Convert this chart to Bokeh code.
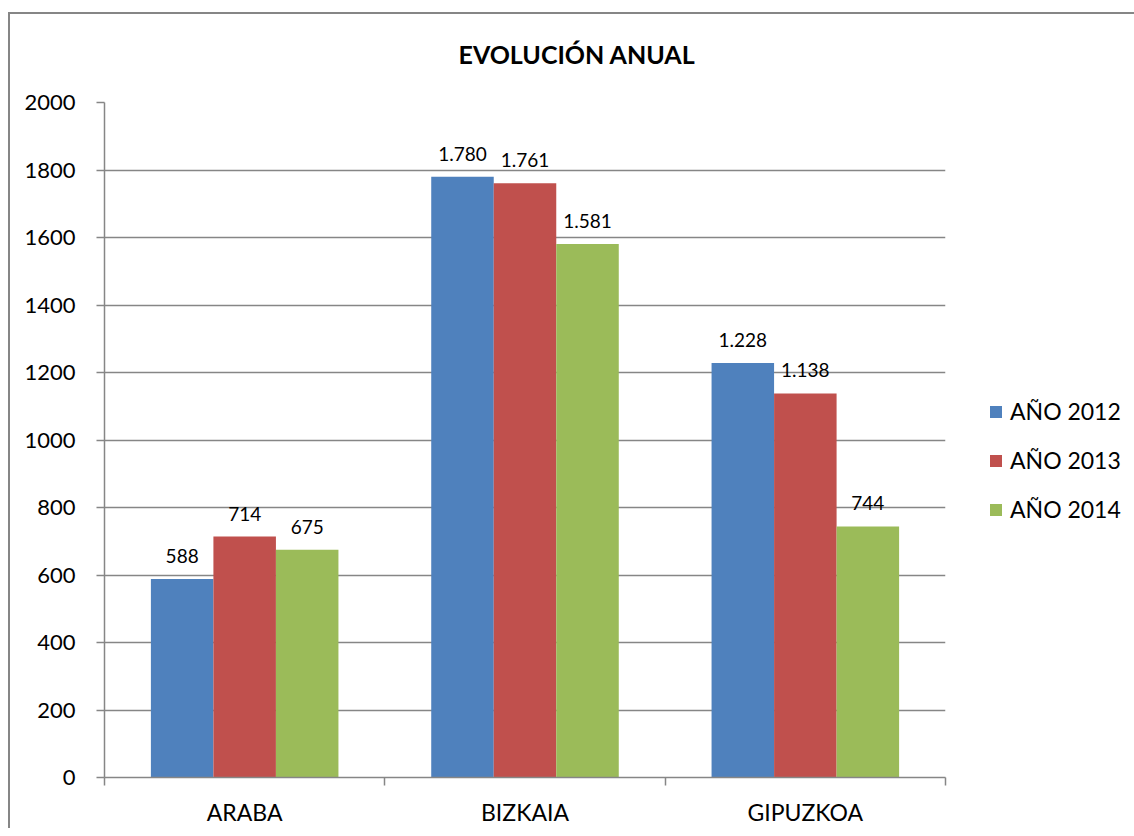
from bokeh.plotting import figure
from bokeh.models import (ColumnDataSource, Range1d, FixedTicker, Legend, LegendItem,
                          LabelSet, Title)
from bokeh.core.properties import value
from bokeh.embed import file_html
from bokeh.resources import INLINE

# ---- data ----
categories = ["ARABA", "BIZKAIA", "GIPUZKOA"]
series_names = ["AÑO 2012", "AÑO 2013", "AÑO 2014"]
values_2012 = [588, 1780, 1228]
values_2013 = [714, 1761, 1138]
values_2014 = [675, 1581, 744]
colors = ["#4F81BD", "#C0504D", "#9BBB59"]
y_ticks = [0, 200, 400, 600, 800, 1000, 1200, 1400, 1600, 1800, 2000]
title_text = "EVOLUCIÓN ANUAL"

FONT = "Lato"
GRID = "#868686"

p = figure(frame_width=841, frame_height=675,
           min_border_left=104, min_border_right=175, min_border_top=102, min_border_bottom=50,
           x_range=Range1d(0, len(categories)), y_range=Range1d(0, 2000),
           output_backend="svg", toolbar_location=None, tools="")
# chart-area border (left and top edges visible, as in the reference)
p.styles = {"background-color": "white",
            "box-shadow": "inset 8px 12px 0 0 white, inset 10px 14px 0 0 #868686"}
p.outline_line_color = None
p.background_fill_color = "white"
p.border_fill_color = None

title = Title(text=title_text, align="left", offset=354, text_font=FONT,
              text_font_size="25px", text_font_style="bold", text_color="black",
              standoff=68)
p.add_layout(title, "above")

bar_w = 0.223
offsets = [-bar_w, 0.0, bar_w]
all_series = [values_2012, values_2013, values_2014]
renderers = []
for vals, off, col in zip(all_series, offsets, colors):
    xs = [i + 0.5 + off for i in range(len(categories))]
    labels = [f"{v:,}".replace(",", ".") for v in vals]
    src = ColumnDataSource(dict(x=xs, top=vals, lab=labels))
    r = p.vbar(x="x", top="top", bottom=0, width=bar_w, source=src,
               fill_color=col, line_color=None)
    renderers.append(r)
    p.add_layout(LabelSet(x="x", y="top", text="lab", source=src, text_align="center",
                          text_baseline="bottom", y_offset=16, text_font=value(FONT),
                          text_font_size=value("19px"), text_color="black"))

# axes
xa = p.xaxis[0]
xa.ticker = FixedTicker(ticks=[i + 0.5 for i in range(len(categories))],
                        minor_ticks=list(range(len(categories) + 1)))
xa.major_label_overrides = {i + 0.5: c for i, c in enumerate(categories)}
xa.major_tick_in = 0
xa.major_tick_out = 0
xa.minor_tick_in = 0
xa.minor_tick_out = 8
xa.minor_tick_line_color = GRID
xa.minor_tick_line_width = 1.5
xa.axis_line_color = GRID
xa.axis_line_width = 1.5
xa.major_label_text_font = FONT
xa.major_label_text_font_size = "23px"
xa.major_label_text_color = "black"
xa.major_label_standoff = 12

ya = p.yaxis[0]
ya.ticker = FixedTicker(ticks=y_ticks, minor_ticks=[])
ya.major_tick_in = 0
ya.major_tick_out = 8
ya.major_tick_line_color = GRID
ya.major_tick_line_width = 1.5
ya.axis_line_color = GRID
ya.axis_line_width = 1.5
ya.major_label_text_font = FONT
ya.major_label_text_font_size = "22px"
ya.major_label_text_color = "black"
ya.major_label_standoff = 21

p.xgrid.grid_line_color = None
p.ygrid.grid_line_color = GRID
p.ygrid.grid_line_width = 1.5

legend = Legend(items=[LegendItem(label=n, renderers=[r]) for n, r in zip(series_names, renderers)],
                location=(43, 254), glyph_width=15, glyph_height=15, label_standoff=7,
                spacing=21, padding=0, margin=0, border_line_color=None,
                background_fill_alpha=0, label_text_font=FONT, label_text_font_size="23px",
                label_text_color="black", label_height=25)
p.add_layout(legend, "right")

open("out.html", "w").write(file_html(p, INLINE))
